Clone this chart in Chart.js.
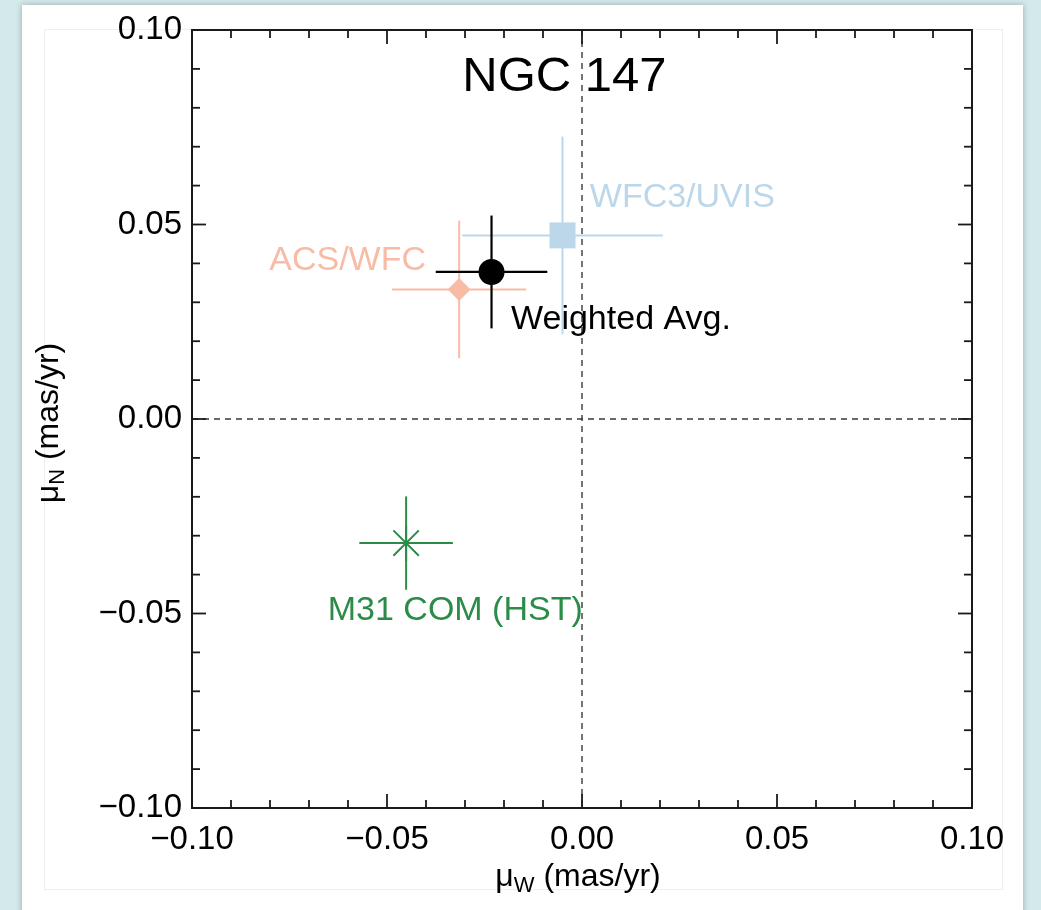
<!DOCTYPE html>
<html><head><meta charset="utf-8">
<script src="https://cdn.jsdelivr.net/npm/chart.js@4.4.0/dist/chart.umd.min.js"></script>
<style>
html,body{margin:0;padding:0;width:1041px;height:910px;overflow:hidden;background:#d4e9eb;}
#panel{position:absolute;left:22px;top:5px;width:1001px;height:930px;background:#fff;box-shadow:0 0 6px rgba(0,0,0,0.28);}
#inner{position:absolute;left:44px;top:29px;width:957px;height:859px;border:1px solid #efefef;}
#wrap{position:absolute;left:0;top:0;width:1041px;height:910px;}
</style></head><body>
<div id="panel"></div><div id="inner"></div>
<div id="wrap"><canvas id="c" width="1041" height="910"></canvas></div>
<script>
// ---- data ----
const categories = ['WFC3/UVIS', 'ACS/WFC', 'Weighted Avg.', 'M31 COM (HST)'];
const muW  = [-0.0050, -0.0315, -0.0232, -0.0451];
const muN  = [ 0.0472,  0.0333,  0.0378, -0.0319];
const errW = [ 0.0257,  0.0172,  0.0143,  0.0120];
const errN = [ 0.0254,  0.0177,  0.0145,  0.0120];
const tickValues = [-0.10,-0.09,-0.08,-0.07,-0.06,-0.05,-0.04,-0.03,-0.02,-0.01,0.00,
                     0.01,0.02,0.03,0.04,0.05,0.06,0.07,0.08,0.09,0.10];
const majorTicks = [-0.10, -0.05, 0.00, 0.05, 0.10];
const tickLabels = ['\u22120.10', '\u22120.05', '0.00', '0.05', '0.10'];
const chartTitle = 'NGC 147';

// ---- styles ----
const colors  = ['#bdd7ea', '#f8bca6', '#000000', '#2b8c48'];
const markers = ['rect', 'rectRot', 'circle', 'star'];
const radii   = [18.4, 11.5, 13, 18];
const borderW = [0, 0, 0, 2];
const barW    = [2, 2, 2.2, 2];
// label anchors (data coords) and alignment
const labelPos = [
  {x: 0.0020, y: 0.0569, align: 'left'},
  {x: -0.0400, y: 0.0408, align: 'right'},
  {x: -0.0182, y: 0.0256, align: 'left'},
  {x: -0.0325, y: -0.0492, align: 'center'}
];
const FONT = "'Liberation Sans', Arial, Helvetica, sans-serif";

function majorIndex(v){ return majorTicks.findIndex(m => Math.abs(m - v) < 1e-9); }

const overlay = {
  id: 'overlay',
  beforeDatasetsDraw(chart){
    const {ctx, chartArea: a, scales: {x, y}} = chart;
    const line = (x1,y1,x2,y2) => { ctx.beginPath(); ctx.moveTo(x1,y1); ctx.lineTo(x2,y2); ctx.stroke(); };
    ctx.save();
    ctx.setLineDash([6,5]); ctx.strokeStyle = '#3a3a3a'; ctx.lineWidth = 1.4;
    const x0 = x.getPixelForValue(0), y0 = y.getPixelForValue(0);
    line(a.left, y0, a.right, y0);
    line(x0, a.top, x0, a.bottom);
    ctx.setLineDash([]);
    for (let i = 0; i < muW.length; i++){
      ctx.strokeStyle = colors[i]; ctx.lineWidth = barW[i];
      const py = y.getPixelForValue(muN[i]), px = x.getPixelForValue(muW[i]);
      line(x.getPixelForValue(muW[i]-errW[i]), py, x.getPixelForValue(muW[i]+errW[i]), py);
      line(px, y.getPixelForValue(muN[i]+errN[i]), px, y.getPixelForValue(muN[i]-errN[i]));
    }
    ctx.restore();
  },
  afterDatasetsDraw(chart){
    const {ctx, chartArea: a, scales: {x, y}} = chart;
    const line = (x1,y1,x2,y2) => { ctx.beginPath(); ctx.moveTo(x1,y1); ctx.lineTo(x2,y2); ctx.stroke(); };
    ctx.save();
    // frame
    ctx.strokeStyle = '#1a1a1a'; ctx.lineWidth = 2;
    ctx.strokeRect(a.left, a.top, a.right - a.left, a.bottom - a.top);
    // inward ticks
    ctx.lineWidth = 1.8;
    x.ticks.forEach(t => {
      const p = x.getPixelForValue(t.value), len = majorIndex(t.value) >= 0 ? 14 : 8;
      line(p, a.bottom, p, a.bottom - len); line(p, a.top, p, a.top + len);
    });
    y.ticks.forEach(t => {
      const p = y.getPixelForValue(t.value), len = majorIndex(t.value) >= 0 ? 14 : 8;
      line(a.left, p, a.left + len, p); line(a.right, p, a.right - len, p);
    });
    // point labels
    ctx.font = '34px ' + FONT; ctx.textBaseline = 'middle';
    categories.forEach((c, i) => {
      ctx.fillStyle = colors[i]; ctx.textAlign = labelPos[i].align;
      ctx.fillText(c, x.getPixelForValue(labelPos[i].x), y.getPixelForValue(labelPos[i].y));
    });
    // title
    ctx.fillStyle = '#000'; ctx.font = '49px ' + FONT; ctx.textAlign = 'center';
    ctx.fillText(chartTitle, x.getPixelForValue(-0.0045), y.getPixelForValue(0.0878));
    // axis titles with subscripts
    const drawSub = (sub, cx, cy) => {
      const big = '32px ' + FONT, small = '22px ' + FONT;
      ctx.font = big; const w1 = ctx.measureText('\u03bc').width;
      const w3 = ctx.measureText(' (mas/yr)').width;
      ctx.font = small; const w2 = ctx.measureText(sub).width;
      let sx = cx - (w1 + w2 + w3) / 2;
      ctx.textAlign = 'left'; ctx.textBaseline = 'alphabetic';
      ctx.font = big; ctx.fillText('\u03bc', sx, cy); sx += w1;
      ctx.font = small; ctx.fillText(sub, sx, cy + 6); sx += w2;
      ctx.font = big; ctx.fillText(' (mas/yr)', sx, cy);
    };
    drawSub('W', (a.left + a.right) / 2 - 4, 886);
    ctx.save(); ctx.translate(58, (a.top + a.bottom) / 2 + 4); ctx.rotate(-Math.PI / 2);
    drawSub('N', 0, 0); ctx.restore();
    ctx.restore();
  }
};

const tickOpts = (pad) => ({
  autoSkip: false, maxRotation: 0, padding: pad, color: '#000',
  font: {size: 33, family: FONT},
  callback: (v) => { const k = majorIndex(v); return k >= 0 ? tickLabels[k] : ''; }
});

new Chart(document.getElementById('c'), {
  type: 'scatter',
  data: {
    datasets: [{
      data: muW.map((v, i) => ({x: v, y: muN[i]})),
      pointStyle: markers,
      pointRadius: radii,
      pointBorderWidth: borderW,
      backgroundColor: colors,
      borderColor: colors
    }]
  },
  options: {
    responsive: false, animation: false, events: [],
    layout: {padding: {top: 30, right: 69, left: 0, bottom: 0}},
    plugins: {legend: {display: false}, tooltip: {enabled: false}},
    scales: {
      x: {
        type: 'linear', min: -0.1, max: 0.1,
        afterBuildTicks: s => { s.ticks = tickValues.map(v => ({value: v})); },
        afterFit: s => { s.height = 102; },
        grid: {display: false, drawTicks: false}, border: {display: false},
        ticks: tickOpts(12)
      },
      y: {
        type: 'linear', min: -0.1, max: 0.1,
        afterBuildTicks: s => { s.ticks = tickValues.map(v => ({value: v})); },
        afterFit: s => { s.width = 192; },
        grid: {display: false, drawTicks: false}, border: {display: false},
        ticks: tickOpts(10)
      }
    }
  },
  plugins: [overlay]
});
</script>
</body></html>
